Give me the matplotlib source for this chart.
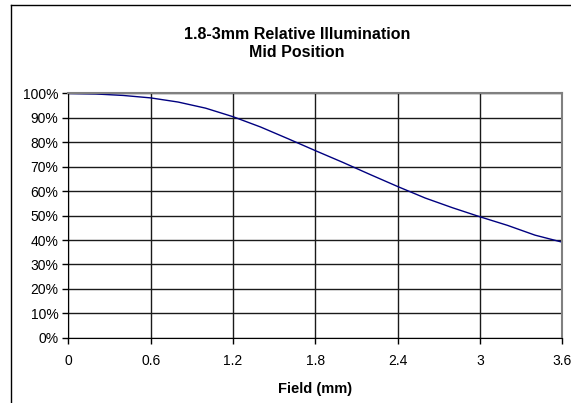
import matplotlib.pyplot as plt
from matplotlib.lines import Line2D
from matplotlib.ticker import FuncFormatter

plt.rcParams['font.family'] = ['Liberation Sans', 'DejaVu Sans']

field_mm = [0.0, 0.2, 0.4, 0.6, 0.8, 1.0, 1.2, 1.4, 1.6, 1.8,
            2.0, 2.2, 2.4, 2.6, 2.8, 3.0, 3.2, 3.4, 3.6]
rel_illum = [100.0, 99.8, 99.2, 98.2, 96.5, 94.0, 90.5, 86.3, 81.5, 76.6,
             71.8, 66.8, 61.9, 57.2, 53.2, 49.5, 46.0, 42.0, 39.1]
x_ticks = [0, 0.6, 1.2, 1.8, 2.4, 3, 3.6]
x_tick_labels = ['0', '0.6', '1.2', '1.8', '2.4', '3', '3.6']
y_ticks = list(range(0, 101, 10))
title_lines = ['1.8-3mm Relative Illumination', 'Mid Position']

fig = plt.figure(figsize=(5.71, 4.03), dpi=100)
ax = fig.add_axes([0.1196, 0.162, 0.985 - 0.1196, 0.768 - 0.162])

ax.plot(field_mm, rel_illum, color='#000080', lw=1.0)

ax.set_xlim(0, 3.6)
ax.set_ylim(0, 100)
ax.set_xticks(x_ticks)
ax.set_xticklabels(x_tick_labels)
ax.set_yticks(y_ticks)
ax.yaxis.set_major_formatter(FuncFormatter(lambda v, p: f'{v:.0f}%'))
ax.tick_params(labelsize=10, length=4, width=1, color='black', pad=3)
ax.tick_params(axis='x', pad=8)
ax.grid(True, color='#1a1a1a', lw=1.0)
ax.set_axisbelow(True)

for s in ['left', 'bottom']:
    ax.spines[s].set_color('black')
for s in ['top', 'right']:
    ax.spines[s].set_color('#808080')
    ax.spines[s].set_linewidth(1.5)

ax.set_xlabel('Field (mm)', fontsize=10.5, fontweight='bold', labelpad=10)

# two-line title, centred on the (wider) chart area
for line, base_px in zip(title_lines, [39.3, 56.7]):
    fig.text(297 / 571, 1 - base_px / 403, line, ha='center', va='baseline',
             fontsize=11.5, fontweight='bold')

# chart-area frame (only left and top edges fall inside the image)
fig.add_artist(Line2D([10.5 / 571, 10.5 / 571], [0, 1 - 4.5 / 403],
                      color='black', lw=1))
fig.add_artist(Line2D([10.5 / 571, 1], [1 - 4.5 / 403, 1 - 4.5 / 403],
                      color='black', lw=1))

fig.savefig('out.png', dpi=100)
